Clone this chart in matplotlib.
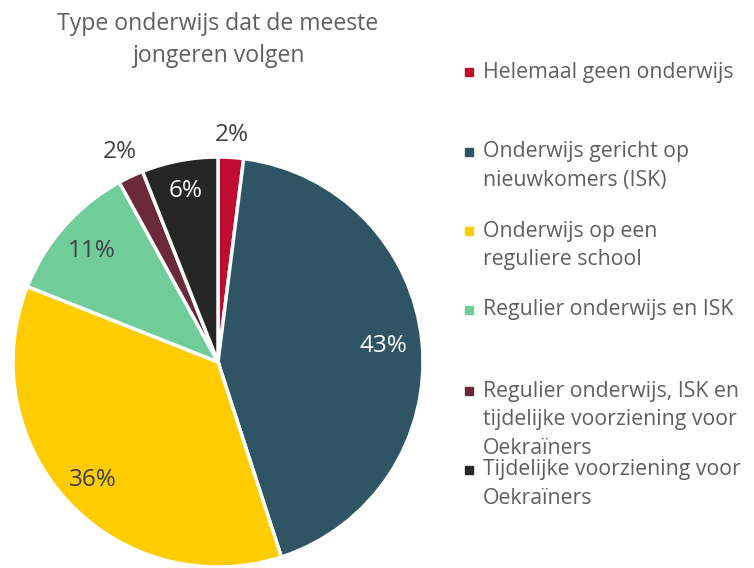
import matplotlib
matplotlib.use("Agg")
import matplotlib.pyplot as plt
import numpy as np

categories = [
    "Helemaal geen onderwijs",
    "Onderwijs gericht op\nnieuwkomers (ISK)",
    "Onderwijs op een\nreguliere school",
    "Regulier onderwijs en ISK",
    "Regulier onderwijs, ISK en\ntijdelijke voorziening voor\nOekraïners",
    "Tijdelijke voorziening voor\nOekraïners",
]
values = [2, 43, 36, 11, 2, 6]
colors = ["#C00C30", "#2F5565", "#FFCC00", "#70CC98", "#6B2A3C", "#262626"]
label_colors = ["#404040", "white", "#404040", "#404040", "#404040", "white"]
label_dist = [1.11, 0.81, 0.84, 0.82, 1.13, 0.85]
legend_y = [72, 152, 231, 310, 391, 470]  # pixel rows of first line

plt.rcParams['font.family'] = ['Open Sans', 'DejaVu Sans']

W, H = 754, 568
fig = plt.figure(figsize=(W / 100, H / 100), dpi=100)

cx, cy, r = 218, 362, 205
ax = fig.add_axes([(cx - r) / W, 1 - (cy + r) / H, 2 * r / W, 2 * r / H])
wedges, _ = ax.pie(values, colors=colors, startangle=90, counterclock=False,
                   wedgeprops=dict(edgecolor="white", linewidth=2.5))
ax.set_xlim(-1, 1)
ax.set_ylim(-1, 1)
ax.set_aspect("equal")
ax.axis("off")

for w, v, c, d in zip(wedges, values, label_colors, label_dist):
    ang = np.deg2rad((w.theta1 + w.theta2) / 2)
    ax.text(d * np.cos(ang), d * np.sin(ang), f"{v}%", ha="center", va="center",
            fontsize=17.5, color=c)

fig.text(218 / W, 1 - 40 / H, "Type onderwijs dat de meeste\njongeren volgen",
         ha="center", va="center", fontsize=16.6, color="#5f5f5f", linespacing=1.5)

line_h = 28.5
for lab, col, y0 in zip(categories, colors, legend_y):
    fig.patches.append(plt.Rectangle(((465) / W, 1 - (y0 + 4) / H), 8 / W, 8 / H,
                                     transform=fig.transFigure, color=col))
    for i, line in enumerate(lab.split("\n")):
        fig.text(483 / W, 1 - (y0 + i * line_h) / H, line, ha="left", va="center",
                 fontsize=15.3, color="#5f5f5f")

fig.savefig("out.png", dpi=100)
